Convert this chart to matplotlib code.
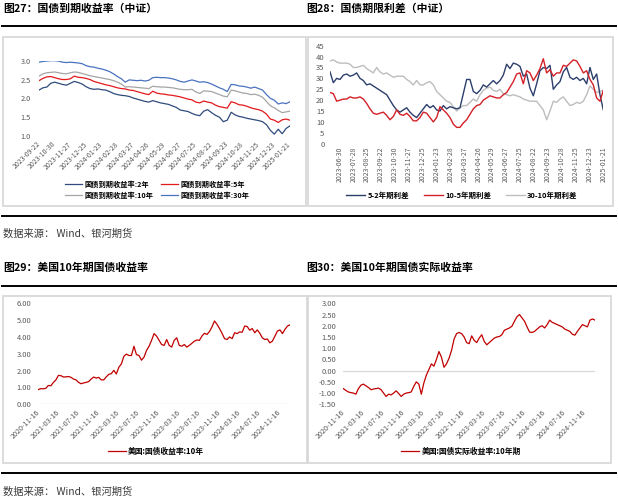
import numpy as np
import matplotlib.pyplot as plt
from matplotlib.patches import Rectangle
from matplotlib.lines import Line2D

plt.rcParams['font.family'] = ['Noto Sans CJK SC', 'DejaVu Sans']

# ---------------- data ----------------
# fig27: CSI treasury yields, one point every 5 trading days
cn_dates = ['2023-09-22', '2023-10-30', '2023-11-27', '2023-12-25', '2024-01-23', '2024-02-28',
            '2024-03-27', '2024-04-26', '2024-05-29', '2024-06-27', '2024-07-25', '2024-08-22',
            '2024-09-23', '2024-10-28', '2024-11-25', '2024-12-23', '2025-01-21']
y2 = [2.22, 2.28, 2.30, 2.40, 2.43, 2.40, 2.37, 2.35, 2.40, 2.45, 2.42, 2.38, 2.31, 2.26, 2.24, 2.25,
      2.23, 2.22, 2.18, 2.13, 2.10, 2.08, 2.07, 2.05, 2.01, 1.98, 1.95, 1.92, 1.90, 1.94, 1.91, 1.88,
      1.86, 1.84, 1.80, 1.76, 1.69, 1.67, 1.65, 1.60, 1.56, 1.54, 1.66, 1.70, 1.62, 1.55, 1.50, 1.38,
      1.42, 1.63, 1.56, 1.52, 1.50, 1.47, 1.45, 1.43, 1.41, 1.38, 1.30, 1.15, 1.05, 1.18, 1.06, 1.20, 1.27]
y5 = [2.47, 2.53, 2.57, 2.58, 2.55, 2.52, 2.50, 2.50, 2.52, 2.59, 2.56, 2.55, 2.53, 2.50, 2.45, 2.42,
      2.39, 2.36, 2.34, 2.31, 2.28, 2.26, 2.25, 2.22, 2.21, 2.18, 2.15, 2.12, 2.10, 2.19, 2.14, 2.12,
      2.11, 2.09, 2.08, 2.06, 2.04, 2.01, 1.98, 1.96, 1.90, 1.88, 1.93, 1.90, 1.88, 1.82, 1.78, 1.76,
      1.74, 1.91, 1.88, 1.83, 1.82, 1.79, 1.75, 1.72, 1.70, 1.66, 1.58, 1.45, 1.42, 1.36, 1.43, 1.45, 1.42]
y10 = [2.59, 2.65, 2.68, 2.69, 2.70, 2.68, 2.66, 2.65, 2.68, 2.70, 2.69, 2.66, 2.63, 2.60, 2.58, 2.56,
       2.54, 2.52, 2.50, 2.47, 2.43, 2.38, 2.30, 2.31, 2.30, 2.29, 2.28, 2.27, 2.26, 2.32, 2.31, 2.30,
       2.30, 2.29, 2.28, 2.26, 2.24, 2.23, 2.23, 2.24, 2.17, 2.13, 2.20, 2.19, 2.18, 2.14, 2.10, 2.06,
       2.04, 2.22, 2.20, 2.17, 2.14, 2.13, 2.10, 2.11, 2.08, 2.03, 1.92, 1.80, 1.75, 1.68, 1.62, 1.64, 1.66]
y30 = [2.96, 2.98, 2.99, 3.00, 3.00, 2.99, 2.96, 2.95, 2.96, 2.95, 2.94, 2.92, 2.87, 2.84, 2.83, 2.80,
       2.78, 2.75, 2.71, 2.65, 2.58, 2.52, 2.43, 2.49, 2.48, 2.47, 2.48, 2.46, 2.48, 2.55, 2.56, 2.55,
       2.55, 2.54, 2.52, 2.49, 2.45, 2.43, 2.46, 2.49, 2.46, 2.43, 2.44, 2.42, 2.38, 2.33, 2.28, 2.24,
       2.18, 2.37, 2.36, 2.33, 2.32, 2.30, 2.27, 2.30, 2.26, 2.22, 2.10, 2.00, 1.95, 1.85, 1.88, 1.86, 1.91]

# fig28: term spreads (bp)
sp_dates = ['2023-06-30', '2023-07-28', '2023-08-25', '2023-09-22', '2023-10-30', '2023-11-27',
            '2023-12-25', '2024-01-23', '2024-02-28', '2024-03-27', '2024-04-26', '2024-05-29',
            '2024-06-27', '2024-07-25', '2024-08-22', '2024-09-23', '2024-10-28', '2024-11-25',
            '2024-12-23', '2025-01-21']
sp_5_2 = [33.0, 28.0, 30.0, 29.5, 31.5, 32.0, 31.0, 31.5, 32.5, 30.0, 29.0, 27.0, 27.5, 26.5, 25.5, 24.5,
          23.5, 22.5, 20.0, 17.5, 15.5, 14.5, 15.5, 16.5, 14.5, 13.0, 12.0, 14.0, 16.0, 18.0, 16.5, 17.5,
          15.5, 15.0, 17.5, 16.0, 17.0, 16.5, 16.0, 16.5, 23.0, 29.5, 29.5, 24.0, 23.0, 24.5, 27.0, 26.0,
          27.5, 29.0, 27.5, 29.0, 31.5, 36.5, 34.5, 37.0, 36.5, 35.5, 31.0, 32.0, 25.5, 22.0, 27.5, 33.5,
          35.0, 34.5, 36.0, 25.0, 27.0, 28.5, 33.0, 35.0, 30.5, 29.5, 30.5, 29.0, 30.0, 27.5, 35.0, 29.5,
          32.0, 22.5, 15.5]
sp_10_5 = [23.5, 23.0, 19.5, 20.0, 20.5, 20.5, 21.5, 21.0, 21.0, 21.5, 20.5, 18.5, 16.0, 14.0, 13.5, 14.0,
           14.5, 13.0, 11.0, 12.5, 15.5, 13.5, 13.0, 14.0, 12.5, 10.5, 10.5, 12.0, 14.5, 14.0, 12.0, 10.0,
           12.0, 17.0, 15.5, 14.0, 12.0, 9.0, 7.5, 7.5, 9.5, 11.0, 13.5, 16.0, 17.5, 18.0, 20.0, 21.0,
           22.0, 21.5, 21.0, 21.0, 22.5, 23.5, 26.0, 28.5, 32.0, 32.5, 27.5, 33.5, 32.5, 29.0, 31.5, 34.5,
           39.0, 32.5, 34.0, 31.0, 32.5, 32.5, 36.0, 35.5, 37.0, 38.5, 38.0, 35.5, 32.5, 33.5, 29.5, 27.0,
           21.0, 19.5, 24.5]
sp_30_10 = [38.0, 38.5, 37.5, 37.0, 37.0, 37.0, 36.5, 35.0, 35.0, 35.5, 36.0, 34.5, 33.5, 32.5, 35.0, 33.0,
            32.0, 32.5, 31.5, 30.5, 31.0, 31.0, 31.0, 29.5, 28.5, 27.0, 29.0, 27.0, 27.0, 28.0, 28.5, 27.0,
            24.0, 22.5, 21.0, 19.5, 19.0, 17.0, 15.0, 16.5, 17.5, 17.5, 19.0, 20.5, 19.5, 22.5, 24.5, 25.5,
            26.0, 24.5, 24.0, 25.0, 23.0, 22.5, 22.0, 22.5, 22.0, 21.5, 20.5, 20.0, 19.5, 19.5, 19.5, 17.5,
            15.5, 11.0, 15.0, 19.5, 19.0, 20.5, 21.5, 19.5, 17.5, 18.0, 19.0, 18.5, 19.5, 22.5, 26.5, 25.0,
            23.5, 24.0, 24.5]

# fig29 / fig30: US 10y yields, twice a month from 2020-11-16
us_dates = ['2020-11-16', '2021-03-16', '2021-07-16', '2021-11-16', '2022-03-16', '2022-07-16',
            '2022-11-16', '2023-03-16', '2023-07-16', '2023-11-16', '2024-03-16', '2024-07-16',
            '2024-11-16']
us_nominal = [0.88, 0.93, 0.92,
              0.95, 1.12, 1.10, 1.30, 1.45, 1.72, 1.70, 1.62, 1.63, 1.65, 1.60, 1.50,
              1.45, 1.30, 1.22, 1.27, 1.30, 1.35, 1.50, 1.62, 1.56, 1.60, 1.45, 1.45,
              1.63, 1.78, 1.82, 2.02, 1.80, 2.20, 2.40, 2.85, 2.98, 2.90, 2.90, 3.45,
              2.95, 2.90, 2.62, 2.80, 3.20, 3.45, 3.80, 4.20, 4.05, 3.80, 3.55, 3.50,
              3.85, 3.50, 3.40, 3.80, 3.95, 3.50, 3.45, 3.55, 3.40, 3.50, 3.62, 3.75,
              3.82, 3.80, 4.05, 4.22, 4.15, 4.32, 4.60, 4.95, 4.75, 4.50, 4.22, 3.90,
              3.85, 4.00, 3.90, 4.25, 4.20, 4.30, 4.28, 4.65, 4.62, 4.40, 4.50, 4.25,
              4.42, 4.22, 3.95, 3.85, 3.88, 3.65, 3.75, 4.05, 4.35, 4.42, 4.20, 4.45,
              4.65, 4.72]
us_real = [-0.80, -0.88, -0.95, -0.98, -1.00, -1.05, -0.80, -0.65, -0.60, -0.68, -0.75, -0.85, -0.82,
           -0.80, -0.78, -0.85, -1.00, -1.15, -1.05, -1.08, -1.00, -0.90, -1.02, -1.15, -1.05, -1.00,
           -0.98, -0.95, -0.70, -0.50, -0.60, -1.05, -0.55, -0.20, 0.05, 0.30, 0.20, 0.50, 0.85, 0.60,
           0.15, 0.30, 0.55, 0.90, 1.40, 1.65, 1.70, 1.65, 1.50, 1.25, 1.20, 1.55, 1.35, 1.25, 1.45,
           1.60, 1.30, 1.15, 1.25, 1.35, 1.45, 1.50, 1.52, 1.60, 1.80, 1.85, 1.90, 1.98, 2.20, 2.40,
           2.50, 2.35, 2.20, 1.95, 1.72, 1.70, 1.75, 1.85, 1.95, 2.00, 1.90, 2.05, 2.25, 2.15, 2.10,
           2.05, 2.00, 1.95, 1.85, 1.80, 1.75, 1.62, 1.58, 1.75, 1.90, 2.05, 2.00, 1.95, 2.25, 2.30, 2.25]

# ---------------- layout helpers (pixel coords, y from top) ----------------
W, H = 618, 498
fig = plt.figure(figsize=(W / 100, H / 100), dpi=100)
TICK = '#595959'


def px_axes(x0, y0, x1, y1):
    return fig.add_axes([x0 / W, 1 - y1 / H, (x1 - x0) / W, (y1 - y0) / H])


def fy(y):
    return 1 - y / H


def frame(x0, y0, x1, y1):
    fig.add_artist(Rectangle((x0 / W, fy(y1)), (x1 - x0) / W, (y1 - y0) / H,
                             transform=fig.transFigure, fill=False, ec='#d9d9d9', lw=1.3))


def rule(y):
    fig.add_artist(Line2D([2 / W, 616 / W], [fy(y), fy(y)], transform=fig.transFigure,
                          color='black', lw=1.4))


def clean(ax):
    for s in ax.spines.values():
        s.set_visible(False)
    ax.tick_params(length=0, colors=TICK)


# titles, rules, frames, sources
fig.text(3 / W, fy(8.5), '图27：国债到期收益率（中证）', fontsize=7.8, fontweight='bold', va='center')
fig.text(306 / W, fy(8.5), '图28：国债期限利差（中证）', fontsize=7.8, fontweight='bold', va='center')
fig.text(3 / W, fy(267.5), '图29：美国10年期国债收益率', fontsize=7.8, fontweight='bold', va='center')
fig.text(306 / W, fy(267.5), '图30：美国10年期国债实际收益率', fontsize=7.8, fontweight='bold', va='center')
fig.text(3 / W, fy(233.5), '数据来源： Wind、银河期货', fontsize=7.4, color='#3a3a3a', va='center')
fig.text(3 / W, fy(491.5), '数据来源： Wind、银河期货', fontsize=7.4, color='#3a3a3a', va='center')
for y in (26, 216, 286, 472.5):
    rule(y)
frame(3, 37, 306, 206)
frame(308, 37, 613, 206)
frame(3, 296, 306.5, 462.5)
frame(308, 296, 611, 462.5)

# ---------------- fig27 ----------------
ax1 = px_axes(39, 60.7, 290, 136)
x1 = np.linspace(0, len(cn_dates) - 1, len(y2))
l2, = ax1.plot(x1, y2, color='#2f4b7c', lw=0.9, label='国债到期收益率:2年')
l5, = ax1.plot(x1, y5, color='#e3191c', lw=0.9, label='国债到期收益率:5年')
l10, = ax1.plot(x1, y10, color='#a5a5a5', lw=0.9, label='国债到期收益率:10年')
l30, = ax1.plot(x1, y30, color='#4a72c0', lw=0.9, label='国债到期收益率:30年')
ax1.set_xlim(0, len(cn_dates) - 1)
ax1.set_ylim(1.0, 3.0)
ax1.set_yticks([1.0, 1.5, 2.0, 2.5, 3.0])
ax1.set_yticklabels(['1.0', '1.5', '2.0', '2.5', '3.0'], fontsize=5.3)
ax1.set_xticks(range(len(cn_dates)))
ax1.set_xticklabels(cn_dates, fontsize=5.0, rotation=45, ha='right', va='center',
                    rotation_mode='anchor')
clean(ax1)
ax1.tick_params(axis='y', pad=6)
ax1.tick_params(axis='x', pad=5)
ax1.legend(handles=[l2, l10, l5, l30], ncol=2, frameon=False, loc='center',
           bbox_to_anchor=((62 + 252) / 2 / W, fy(189.5)), bbox_transform=fig.transFigure,
           prop={'size': 5.2, 'weight': 'bold'}, handlelength=2.4, columnspacing=1.0,
           handletextpad=0.3, labelspacing=0.55)

# ---------------- fig28 ----------------
ax2 = px_axes(330, 45.7, 603.3, 143.7)
x2 = np.arange(len(sp_5_2))
a, = ax2.plot(x2, sp_5_2, color='#2c3e6b', lw=1.0, label='5-2年期利差')
b, = ax2.plot(x2, sp_10_5, color='#d42027', lw=1.0, label='10-5年期利差')
c, = ax2.plot(x2, sp_30_10, color='#bdbdbd', lw=1.0, label='30-10年期利差')
ax2.set_zorder(2)
c.set_zorder(1)
ax2.set_xlim(0, len(sp_5_2) - 1)
ax2.set_ylim(0, 45)
ax2.set_yticks(range(0, 50, 5))
ax2.tick_params(axis='y', labelsize=5.5, pad=4)
step = (len(sp_5_2) - 1 - 2.8) / (len(sp_dates) - 1)
ax2.set_xticks([2.8 + i * step for i in range(len(sp_dates))])
ax2.set_xticklabels(sp_dates, fontsize=4.9, rotation=90, ha='right', va='center',
                    rotation_mode='anchor')
clean(ax2)
ax2.tick_params(axis='x', pad=2)
ax2.legend(handles=[a, b, c], ncol=3, frameon=False, loc='center',
           bbox_to_anchor=(462 / W, fy(195)), bbox_transform=fig.transFigure,
           prop={'size': 5.4, 'weight': 'bold'}, handlelength=2.5, columnspacing=2.0,
           handletextpad=0.3)

# ---------------- fig29 / fig30 ----------------
x3 = np.arange(len(us_nominal))
us_ticks = [i * 8 for i in range(len(us_dates))]


def us_panel(ax, vals, lbl, ylim, yt, legend_cx):
    line, = ax.plot(x3, vals, color='#c00000', lw=0.9, label=lbl)
    ax.axhline(0, color='#d9d9d9', lw=0.9, zorder=0)
    ax.set_xlim(0, len(vals) - 1)
    ax.set_ylim(*ylim)
    ax.set_yticks(yt)
    ax.set_yticklabels(['%.2f' % v for v in yt], fontsize=5.4)
    ax.set_xticks(us_ticks)
    ax.set_xticklabels(us_dates, fontsize=5.2, rotation=45, ha='right', va='center',
                       rotation_mode='anchor')
    clean(ax)
    ax.tick_params(axis='y', pad=5)
    ax.tick_params(axis='x', pad=5)
    ax.legend(handles=[line], frameon=False, loc='center',
              bbox_to_anchor=(legend_cx / W, fy(451)), bbox_transform=fig.transFigure,
              prop={'size': 5.6, 'weight': 'bold'}, handlelength=2.3, handletextpad=0.3)


ax3 = px_axes(38.3, 303.3, 290, 404.3)
us_panel(ax3, us_nominal, '美国:国债收益率:10年', (0, 6), [0, 1, 2, 3, 4, 5, 6], 156)
ax4 = px_axes(343.3, 303.3, 595, 404.3)
us_panel(ax4, us_real, '美国:国债实际收益率:10年期', (-1.5, 3), [-1.5, -1, -0.5, 0, 0.5, 1, 1.5, 2, 2.5, 3], 461)

fig.savefig('out.png', dpi=100)
